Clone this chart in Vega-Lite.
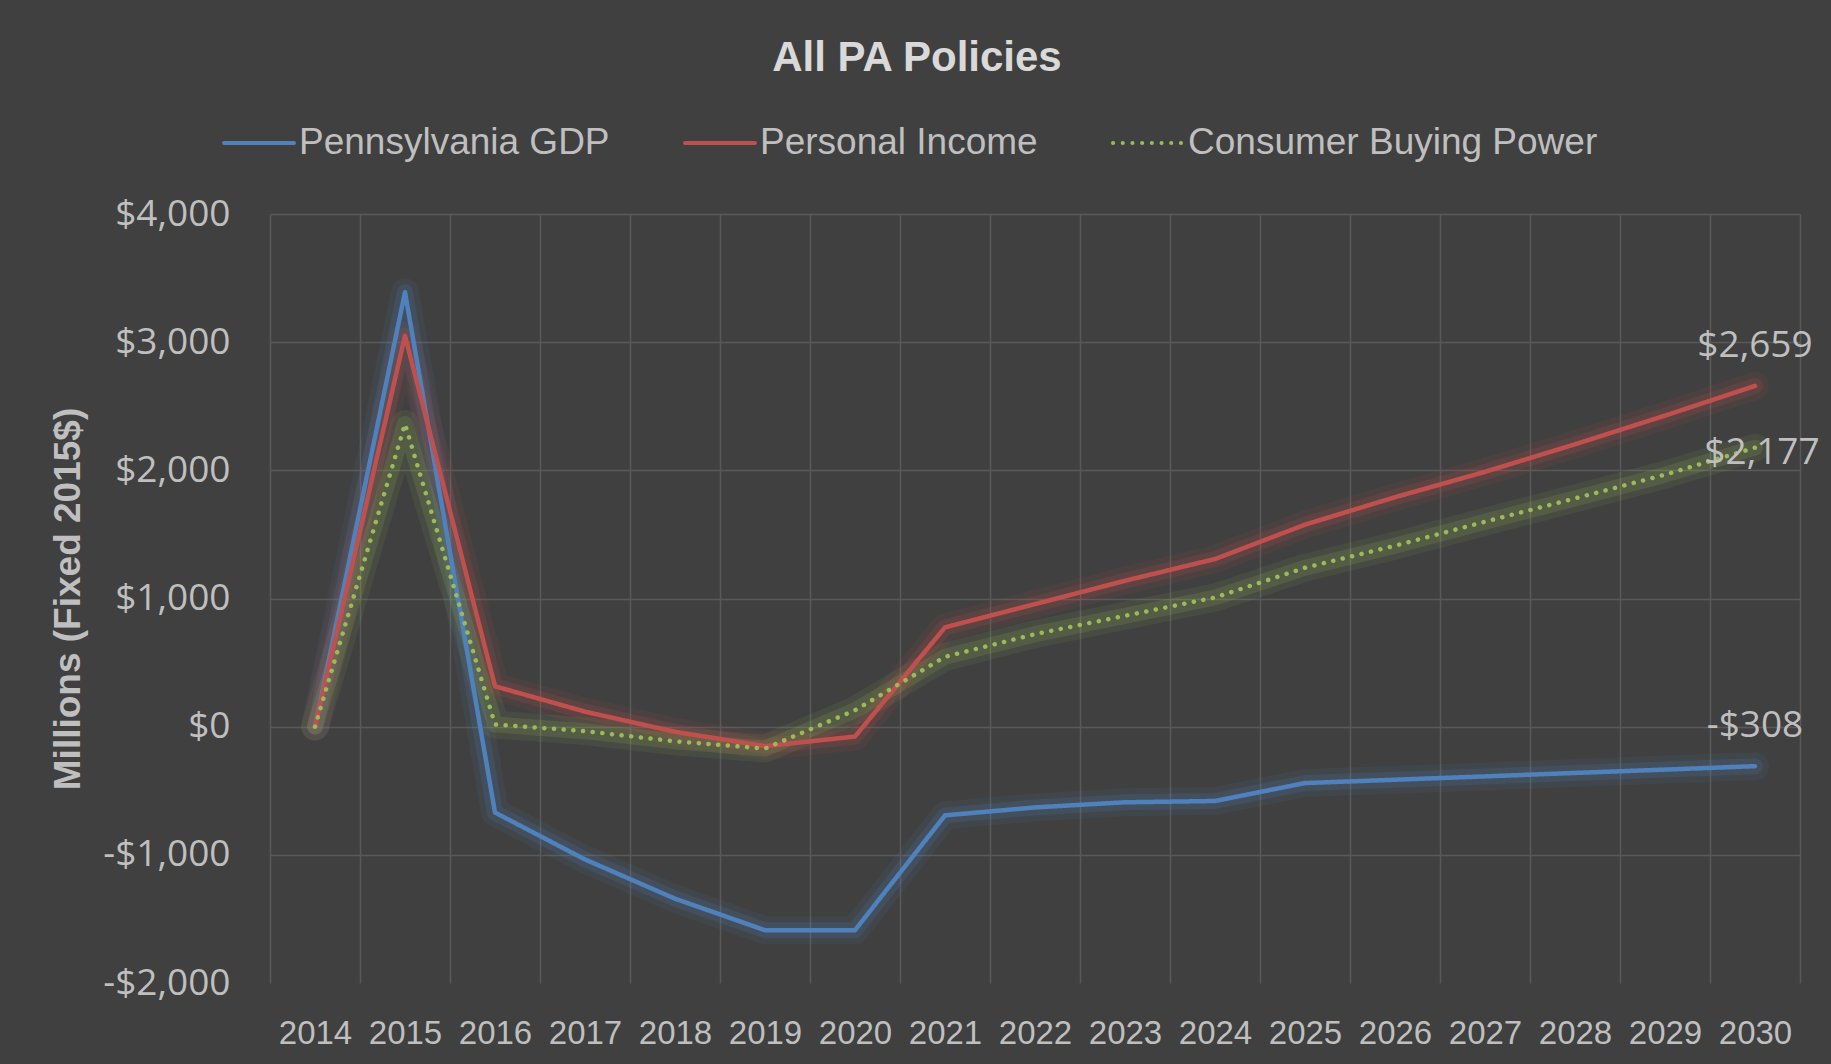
{
  "$schema": "https://vega.github.io/schema/vega-lite/v6.json",
  "width": 1530,
  "height": 769,
  "autosize": {"type": "none"},
  "padding": {"left": 270, "top": 214, "right": 31, "bottom": 81},
  "background": "#404040",
  "config": {
    "view": {"stroke": null},
    "font": "Liberation Sans",
    "legend": {
      "orient": "none",
      "legendX": -48,
      "legendY": -108,
      "direction": "horizontal",
      "symbolType": "stroke",
      "symbolSize": 4900,
      "symbolStrokeWidth": 4,
      "symbolOpacity": 1,
      "labelFont": "Liberation Sans",
      "labelFontSize": 37,
      "labelColor": "#bfbfbf",
      "labelOffset": 3,
      "columnPadding": 67,
      "labelLimit": 1000
    }
  },
  "title": {
    "text": "All PA Policies",
    "font": "Liberation Sans",
    "fontSize": 42,
    "fontWeight": "bold",
    "color": "#d9d9d9",
    "anchor": "middle",
    "frame": "group",
    "dx": -118,
    "offset": 26
  },
  "data": {
    "values": [
      {"year": 2014, "series": "Pennsylvania GDP", "value": 0},
      {"year": 2015, "series": "Pennsylvania GDP", "value": 3390},
      {"year": 2016, "series": "Pennsylvania GDP", "value": -670},
      {"year": 2017, "series": "Pennsylvania GDP", "value": -1036},
      {"year": 2018, "series": "Pennsylvania GDP", "value": -1342},
      {"year": 2019, "series": "Pennsylvania GDP", "value": -1588},
      {"year": 2020, "series": "Pennsylvania GDP", "value": -1588},
      {"year": 2021, "series": "Pennsylvania GDP", "value": -692},
      {"year": 2022, "series": "Pennsylvania GDP", "value": -630},
      {"year": 2023, "series": "Pennsylvania GDP", "value": -590},
      {"year": 2024, "series": "Pennsylvania GDP", "value": -580},
      {"year": 2025, "series": "Pennsylvania GDP", "value": -440},
      {"year": 2026, "series": "Pennsylvania GDP", "value": -414},
      {"year": 2027, "series": "Pennsylvania GDP", "value": -388},
      {"year": 2028, "series": "Pennsylvania GDP", "value": -361},
      {"year": 2029, "series": "Pennsylvania GDP", "value": -335},
      {"year": 2030, "series": "Pennsylvania GDP", "value": -308},
      {"year": 2014, "series": "Personal Income", "value": 0},
      {"year": 2015, "series": "Personal Income", "value": 3050},
      {"year": 2016, "series": "Personal Income", "value": 315},
      {"year": 2017, "series": "Personal Income", "value": 117},
      {"year": 2018, "series": "Personal Income", "value": -40},
      {"year": 2019, "series": "Personal Income", "value": -152},
      {"year": 2020, "series": "Personal Income", "value": -77},
      {"year": 2021, "series": "Personal Income", "value": 775},
      {"year": 2022, "series": "Personal Income", "value": 956},
      {"year": 2023, "series": "Personal Income", "value": 1138},
      {"year": 2024, "series": "Personal Income", "value": 1308},
      {"year": 2025, "series": "Personal Income", "value": 1576},
      {"year": 2026, "series": "Personal Income", "value": 1790},
      {"year": 2027, "series": "Personal Income", "value": 1988},
      {"year": 2028, "series": "Personal Income", "value": 2203},
      {"year": 2029, "series": "Personal Income", "value": 2427},
      {"year": 2030, "series": "Personal Income", "value": 2659},
      {"year": 2014, "series": "Consumer Buying Power", "value": 0},
      {"year": 2015, "series": "Consumer Buying Power", "value": 2362},
      {"year": 2016, "series": "Consumer Buying Power", "value": 17},
      {"year": 2017, "series": "Consumer Buying Power", "value": -35},
      {"year": 2018, "series": "Consumer Buying Power", "value": -114},
      {"year": 2019, "series": "Consumer Buying Power", "value": -171},
      {"year": 2020, "series": "Consumer Buying Power", "value": 128},
      {"year": 2021, "series": "Consumer Buying Power", "value": 545},
      {"year": 2022, "series": "Consumer Buying Power", "value": 722},
      {"year": 2023, "series": "Consumer Buying Power", "value": 865},
      {"year": 2024, "series": "Consumer Buying Power", "value": 1008},
      {"year": 2025, "series": "Consumer Buying Power", "value": 1240},
      {"year": 2026, "series": "Consumer Buying Power", "value": 1412},
      {"year": 2027, "series": "Consumer Buying Power", "value": 1599},
      {"year": 2028, "series": "Consumer Buying Power", "value": 1781},
      {"year": 2029, "series": "Consumer Buying Power", "value": 1966},
      {"year": 2030, "series": "Consumer Buying Power", "value": 2177}
    ]
  },
  "encoding": {
    "x": {
      "field": "year",
      "type": "ordinal",
      "scale": {"type": "band", "paddingInner": 0, "paddingOuter": 0},
      "axis": {
        "title": null,
        "labelAngle": 0,
        "labelFont": "Liberation Sans",
        "labelFontSize": 33,
        "labelColor": "#bfbfbf",
        "labelPadding": 34,
        "ticks": false,
        "domain": false,
        "tickBand": "extent",
        "grid": true,
        "gridColor": "#595959",
        "gridWidth": 1.5
      }
    },
    "y": {
      "field": "value",
      "type": "quantitative",
      "scale": {"domain": [-2000, 4000], "nice": false, "zero": false},
      "axis": {
        "values": [-2000, -1000, 0, 1000, 2000, 3000, 4000],
        "labelExpr": "replace(format(datum.value, '$,.0f'), '\u2212', '-')",
        "labelFont": "Open Sans",
        "labelFontSize": 37,
        "labelColor": "#bfbfbf",
        "labelPadding": 40,
        "ticks": false,
        "domain": false,
        "grid": true,
        "gridColor": "#595959",
        "gridWidth": 1.5,
        "gridOpacity": {"condition": {"test": "datum.value <= -2000", "value": 0}, "value": 1},
        "title": "Millions (Fixed 2015$)",
        "titleFont": "Liberation Sans",
        "titleFontSize": 37,
        "titleFontWeight": "bold",
        "titleColor": "#bfbfbf",
        "titlePadding": 15
      }
    }
  },
  "layer": [
    {
      "mark": {"type": "line", "strokeWidth": 28, "opacity": 0.09, "strokeCap": "round", "strokeJoin": "round"},
      "encoding": {
        "color": {"field": "series", "type": "nominal", "scale": {"domain": ["Pennsylvania GDP", "Personal Income", "Consumer Buying Power"], "range": ["#4F81BD", "#C0504D", "#9BBB59"]}, "legend": {"title": null, "encode": {"symbols": {"update": {"opacity": {"value": 1}, "strokeWidth": {"value": 4}, "strokeCap": {"value": "round"}}}}}}
      }
    },
    {
      "mark": {"type": "line", "strokeWidth": 16, "opacity": 0.16, "strokeCap": "round", "strokeJoin": "round"},
      "encoding": {
        "color": {"field": "series", "type": "nominal", "legend": {"title": null, "encode": {"symbols": {"update": {"opacity": {"value": 1}, "strokeWidth": {"value": 4}, "strokeCap": {"value": "round"}}}}}}
      }
    },
    {
      "mark": {"type": "line", "strokeWidth": 4.5, "strokeJoin": "round", "strokeCap": "round"},
      "encoding": {
        "color": {"field": "series", "type": "nominal", "legend": {"title": null, "encode": {"symbols": {"update": {"opacity": {"value": 1}, "strokeWidth": {"value": 4}, "strokeCap": {"value": "round"}}}}}},
        "strokeDash": {"field": "series", "type": "nominal", "scale": {"domain": ["Pennsylvania GDP", "Personal Income", "Consumer Buying Power"], "range": [[1, 0], [1, 0], [0.1, 9.6]]}, "legend": {"title": null, "encode": {"symbols": {"update": {"opacity": {"value": 1}, "strokeWidth": {"value": 4}, "strokeCap": {"value": "round"}}}}}}
      }
    },
    {
      "transform": [
        {"filter": "datum.year == 2030 && datum.series != 'Consumer Buying Power'"},
        {"calculate": "replace(format(datum.value, '$,.0f'), '\u2212', '-')", "as": "label"}
      ],
      "mark": {"type": "text", "font": "Open Sans", "fontSize": 37, "color": "#bfbfbf", "align": "center", "baseline": "alphabetic", "dy": -29},
      "encoding": {"text": {"field": "label", "type": "nominal"}}
    },
    {
      "transform": [
        {"filter": "datum.year == 2030 && datum.series == 'Consumer Buying Power'"},
        {"calculate": "replace(format(datum.value, '$,.0f'), '\u2212', '-')", "as": "label"}
      ],
      "mark": {"type": "text", "font": "Open Sans", "fontSize": 37, "color": "#bfbfbf", "align": "center", "baseline": "alphabetic", "dx": 7, "dy": 16},
      "encoding": {"text": {"field": "label", "type": "nominal"}}
    }
  ]
}
